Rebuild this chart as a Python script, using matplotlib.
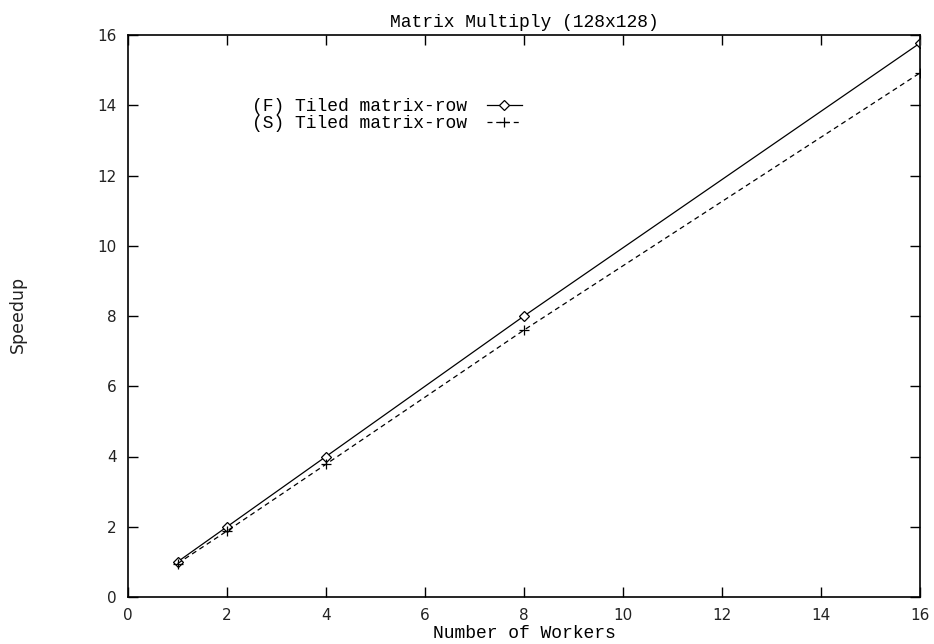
#!/usr/bin/env python3
"""
Speedup plot for tiled matrix multiply
"""
import matplotlib
matplotlib.use('Agg')
import matplotlib.pyplot as plt

workers = [1, 2, 4, 8, 16]
speedup_f = [1.0, 2.0, 4.0, 8.0, 15.77]
speedup_s = [0.95, 1.88, 3.78, 7.6, 14.92]
label_f = '(F) Tiled matrix-row'
label_s = '(S) Tiled matrix-row'
ticks = [0, 2, 4, 6, 8, 10, 12, 14, 16]

MONO = 'Liberation Mono'
SANS = 'DejaVu Sans'

fig = plt.figure(figsize=(9.34, 6.44), dpi=100)
ax = fig.add_axes([128 / 934, 47 / 644, 792 / 934, 562 / 644])

ax.plot(workers, speedup_f, color='black', linewidth=0.9, marker='D',
        markersize=5.5, markerfacecolor='white', markeredgewidth=0.9,
        label=label_f)
ax.plot(workers, speedup_s, color='black', linewidth=0.9, linestyle=(0, (4, 3)),
        marker='+', markersize=7, markeredgewidth=0.9, label=label_s)

ax.set_xlim(0, 16)
ax.set_ylim(0, 16)
ax.set_xticks(ticks)
ax.set_yticks(ticks)
ax.tick_params(direction='in', length=7, width=1, top=True, right=True,
               labelsize=11, pad=8)
for lbl in ax.get_xticklabels() + ax.get_yticklabels():
    lbl.set_family(SANS)
    lbl.set_color('#222222')
for side in ax.spines.values():
    side.set_linewidth(1.2)

ax.set_title('Matrix Multiply (128x128)', family=MONO, fontsize=13, pad=6)
ax.set_xlabel('Number of Workers', family=MONO, fontsize=13, labelpad=1)
fig.text(18 / 934, 1 - 314 / 644, 'Speedup', family=SANS, fontsize=12.5,
         rotation=90, ha='center', va='center', color='#222222')

ax.legend(loc='upper left', bbox_to_anchor=(0.157, 0.888), frameon=False,
          borderaxespad=0, borderpad=0, markerfirst=False, numpoints=1,
          handlelength=1.9, handletextpad=1.1, labelspacing=0.0,
          prop={'family': MONO, 'size': 13})

fig.savefig('out.png', dpi=100)
